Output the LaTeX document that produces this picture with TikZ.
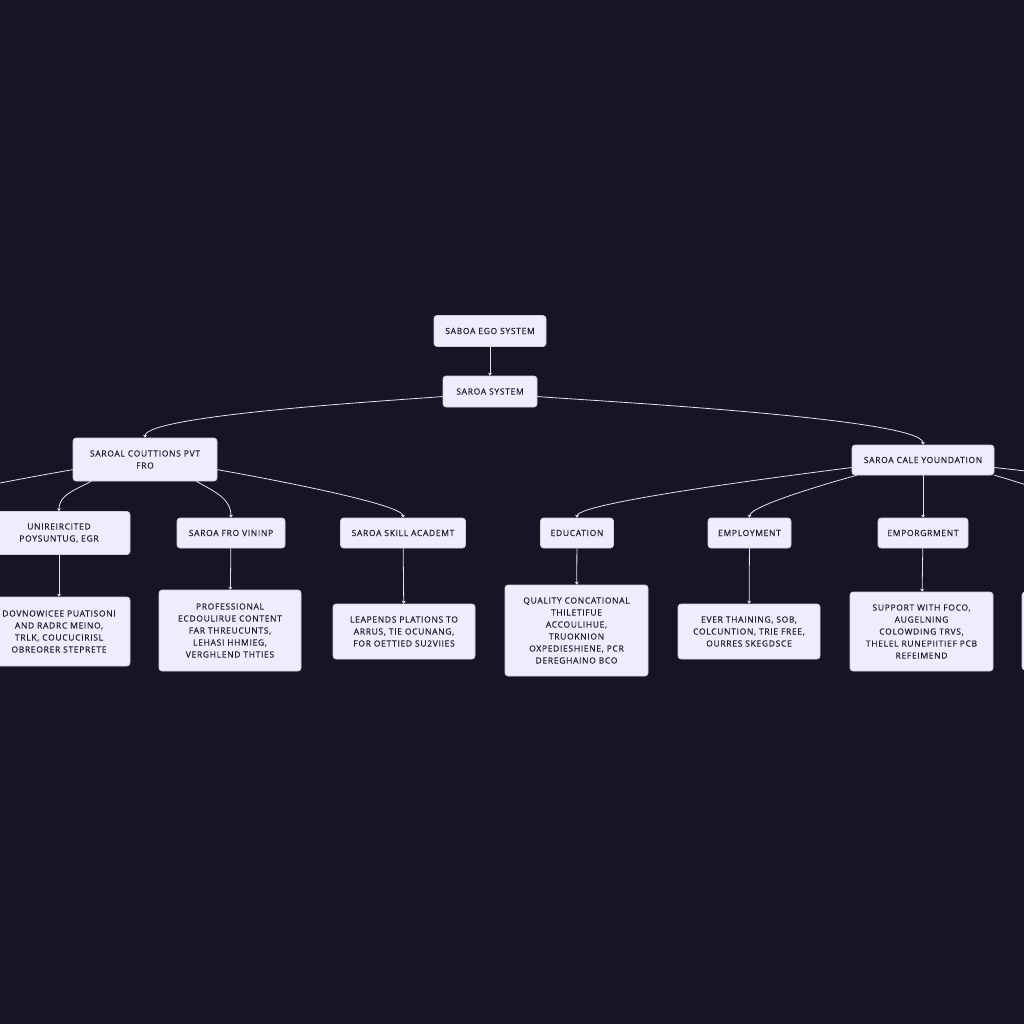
\documentclass[tikz,border=0pt]{standalone}
\usepackage{fontspec}
\usepackage{tikz}
\usetikzlibrary{arrows.meta}
\newfontfamily\boxfont[LetterSpace=8,FakeBold=0.3]{Open Sans}
\definecolor{bgc}{RGB}{22,21,35}
\definecolor{boxfill}{RGB}{241,236,251}
\definecolor{boxline}{RGB}{214,204,236}
\definecolor{boxtext}{RGB}{34,30,48}
\definecolor{linkc}{RGB}{228,226,236}
\begin{document}
\begin{tikzpicture}[x=1pt,y=-1pt,
		box/.style={draw=boxline,fill=boxfill,rounded corners=3pt,text=boxtext,align=center,
			inner sep=0pt,line width=0.6pt,font={\boxfont\fontsize{8.5}{12}\selectfont}},
		link/.style={draw=linkc,line width=0.8pt,-{Stealth[length=3pt,width=4pt]}}]
			% 背景和画布大小,坐标按像素算,y向下
			\useasboundingbox (0,0) rectangle (1024,1024);
			\fill[bgc] (0,0) rectangle (1024,1024);
			\clip (0,0) rectangle (1024,1024);
			% 第一层和第二层
			\node[box,minimum width=112,minimum height=31] (ego) at (490,331) {SABOA EGO SYSTEM};
			\node[box,minimum width=94,minimum height=31] (sys) at (490,391.5) {SAROA SYSTEM};
			\node[box,minimum width=144,minimum height=43] (pvt) at (145,459.5) {SAROAL COUTTIONS PVT\\FRO};
			\node[box,minimum width=142,minimum height=30] (cale) at (923,460) {SAROA CALE YOUNDATION};
			% 第三层
			\node[box,minimum width=142,minimum height=43] (unir) at (59,533) {UNIREIRCITED\\POYSUNTUG, EGR};
			\node[box,minimum width=108,minimum height=30] (vin) at (231,533) {SAROA FRO VININP};
			\node[box,minimum width=125,minimum height=30] (skill) at (403,533) {SAROA SKILL ACADEMT};
			\node[box,minimum width=73,minimum height=30] (edu) at (577,533) {EDUCATION};
			\node[box,minimum width=83,minimum height=30] (emp) at (749.5,533) {EMPLOYMENT};
			\node[box,minimum width=90,minimum height=30] (empg) at (923,533) {EMPORGRMENT};
			% 第四层
			\node[box,minimum width=142,minimum height=69] (dov) at (59,631.5) {DOVNOWICEE PUATISONI\\AND RADRC MEINO,\\TRLK, COUCUCIRISL\\OBREORER STEPRETE};
			\node[box,minimum width=142,minimum height=81] (prof) at (230,630.5) {PROFESSIONAL\\ECDOULIRUE CONTENT\\FAR THREUCUNTS,\\LEHASI HHMIEG,\\VERGHLEND THTIES};
			\node[box,minimum width=142,minimum height=55] (leap) at (404,631.5) {LEAPENDS PLATIONS TO\\ARRUS, TIE OCUNANG,\\FOR OETTIED SU2VIIES};
			\node[box,minimum width=143,minimum height=91] (qual) at (576.5,630.5) {QUALITY CONCATIONAL\\THILETIFUE\\ACCOULIHUE,\\TRUOKNION\\OXPEDIESHIENE, PCR\\DEREGHAINO BCO};
			\node[box,minimum width=142,minimum height=55] (ever) at (749,631.5) {EVER THAINING, SOB,\\COLCUNTION, TRIE FREE,\\OURRES SKEGDSCE};
			\node[box,minimum width=143,minimum height=79] (supp) at (921.5,631.5) {SUPPORT WITH FOCO,\\AUGELNING\\COLOWDING TRVS,\\THELEL RUNEPIITIEF PCB\\REFEIMEND};
			\node[box,minimum width=142,minimum height=78] (rest) at (1093,631) {};
			% 画面外的子节点
			\coordinate (offL) at (-115,517);
			\coordinate (offR) at (1093,517);
			\coordinate (offRR) at (1265,517);
			% 连线,out是出发角度,in是进入角度
			\draw[link] (ego) -- (sys);
			\draw[link] (sys.186) to[out=186,in=90,looseness=0.2] (pvt.north);
			\draw[link] (sys.-6) to[out=-6,in=90,looseness=0.18] (cale.north);
			\draw[link] (pvt.188) to[out=190,in=90,looseness=0.2] (offL);
			\draw[link] (pvt.202) to[out=210,in=90] (unir.north);
			\draw[link] (pvt.-23) to[out=-30,in=90] (vin.north);
			\draw[link] (pvt.-8) to[out=-10,in=90,looseness=0.2] (skill.north);
			\draw[link] (cale.186) to[out=188,in=90,looseness=0.15] (edu.north);
			\draw[link] (cale.193) to[out=195,in=90,looseness=0.28] (emp.north);
			\draw[link] (cale) -- (empg);
			\draw[link] (cale.-12) to[out=-16,in=90,looseness=0.3] (offR);
			\draw[link] (cale.-6) to[out=-7,in=90,looseness=0.2] (offRR);
			\draw[link] (unir) -- (dov);
			\draw[link] (vin) -- (prof);
			\draw[link] (skill) -- (leap);
			\draw[link] (edu) -- (qual);
			\draw[link] (emp) -- (ever);
			\draw[link] (empg) -- (supp);
		\end{tikzpicture}
\end{document}
